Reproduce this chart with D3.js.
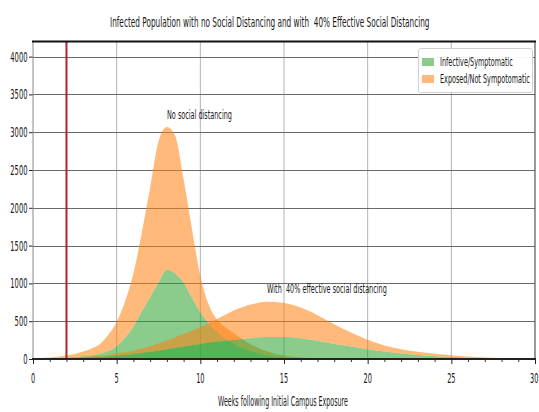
<!DOCTYPE html>
<html>
<head>
<meta charset="utf-8">
<script src="https://cdn.jsdelivr.net/npm/d3@7/dist/d3.min.js"></script>
<style>
  html, body { margin: 0; padding: 0; background: #fff; }
  text { font-family: "DejaVu Sans", sans-serif; white-space: pre; }
</style>
</head>
<body>
<div id="chart"></div>
<script>
// ---------- data ----------
const weeks = [0,1,2,3,3.5,4,4.5,5,5.5,6,6.5,7,7.5,8,8.5,9,9.5,10,10.5,11,11.5,12,12.5,13,14,15,16,17,18,19,20,21,22,23,24,25,26,27,28,29,30];
// No social distancing (stacked: infective bottom, exposed on top)
const noSdInfective = [3,8,16,35,50,70,105,170,280,430,630,820,1010,1180,1130,1010,810,620,470,360,270,200,145,105,50,22,10,4,2,1,0,0,0,0,0,0,0,0,0,0,0];
const noSdExposed   = [5,12,29,65,90,130,215,320,480,700,1040,1450,1870,1890,1820,1370,910,480,250,160,150,140,115,90,50,23,10,4,2,1,1,0,0,0,0,0,0,0,0,0,0];
// 40% effective social distancing
const sdInfective = [1,4,8,18,24,30,38,45,55,66,80,95,112,130,148,165,183,200,215,230,243,255,265,275,290,292,275,240,200,165,130,98,72,52,37,26,18,12,8,5,3];
const sdExposed   = [2,4,7,12,14,15,19,25,33,44,58,75,93,115,140,165,192,220,260,300,342,385,420,445,468,448,405,340,260,185,125,82,58,43,31,22,14,9,5,3,2];

const xTicks = [0,5,10,15,20,25,30];
const yTicks = [0,500,1000,1500,2000,2500,3000,3500,4000];
const legendLabels = ["Infective/Symptomatic", "Exposed/Not Sympotomatic"];
const titleText = "Infected Population with no Social Distancing and with  40% Effective Social Distancing";
const xLabelText = "Weeks following Initial Campus Exposure";
const annotNoSd = "No social distancing";
const annotSd = "With  40% effective social distancing";
const markerWeek = 2;

// ---------- chart ----------
const W = 539, H = 412;
const svg = d3.select("#chart").append("svg").attr("width", W).attr("height", H);
svg.append("rect").attr("width", W).attr("height", H).attr("fill", "#fff");

const x = d3.scaleLinear().domain([0, 30]).range([33, 535]);
const y = d3.scaleLinear().domain([0, 4200]).range([359, 41.5]);

const GREEN = "#2ca02c", ORANGE = "#ff7f0e", ALPHA = 0.55;
const TXT = "#1a1a1a";

// condensed text: place a text at (px, py) with anchor, squeezed horizontally to width w
function squeezed(parent, str, px, py, w, size, anchor) {
  const g = parent.append("g");
  const t = g.append("text").attr("x", 0).attr("y", 0).attr("font-size", size)
    .attr("fill", TXT).attr("text-anchor", anchor || "start").text(str);
  const nat = t.node().getComputedTextLength() || w;
  g.attr("transform", `translate(${px},${py}) scale(${w / nat},1)`);
  return g;
}

// grid
svg.append("g").selectAll("line").data(xTicks.filter(d => d > 0 && d < 30)).join("line")
  .attr("x1", d => x(d)).attr("x2", d => x(d))
  .attr("y1", y.range()[1]).attr("y2", y.range()[0])
  .attr("stroke", "#b4b4b4").attr("stroke-width", 1);
svg.append("g").selectAll("line").data(yTicks.filter(d => d > 0)).join("line")
  .attr("x1", x(0)).attr("x2", x(30))
  .attr("y1", d => Math.round(y(d)) + 0.5).attr("y2", d => Math.round(y(d)) + 0.5)
  .attr("stroke", "#6a6a6a").attr("stroke-width", 1.2);

// areas
const idx = d3.range(weeks.length);
function drawStack(inf, exp) {
  const aI = d3.area().curve(d3.curveMonotoneX)
    .x(i => x(weeks[i])).y0(y(0)).y1(i => y(inf[i]));
  const aE = d3.area().curve(d3.curveMonotoneX)
    .x(i => x(weeks[i])).y0(i => y(inf[i])).y1(i => y(inf[i] + exp[i]));
  svg.append("path").datum(idx).attr("d", aI).attr("fill", GREEN).attr("fill-opacity", ALPHA);
  svg.append("path").datum(idx).attr("d", aE).attr("fill", ORANGE).attr("fill-opacity", ALPHA);
}
drawStack(noSdInfective, noSdExposed);
drawStack(sdInfective, sdExposed);

// red marker line
svg.append("line")
  .attr("x1", x(markerWeek)).attr("x2", x(markerWeek))
  .attr("y1", y.range()[1]).attr("y2", y(0))
  .attr("stroke", "#b3222b").attr("stroke-width", 2);

// axes (ticks via d3 axes, labels squeezed)
const xAxis = svg.append("g").attr("transform", `translate(0,${y(0)})`)
  .call(d3.axisBottom(x).tickValues(xTicks).tickSize(5).tickFormat(""));
xAxis.select(".domain").remove();
xAxis.selectAll("line").attr("stroke", "#222");
xTicks.forEach(d => {
  const s = String(d);
  const w = s.length * 4.2;
  let cx = x(d);
  if (cx + w / 2 > W - 0.5) cx = W - 0.5 - w / 2;
  squeezed(svg, s, cx, 383, w, 14, "middle");
});
const xMinor = svg.append("g").attr("transform", `translate(0,${y(0)})`)
  .call(d3.axisBottom(x).tickValues(d3.range(0, 31).filter(d => d % 5 !== 0)).tickSize(3).tickFormat(""));
xMinor.select(".domain").remove();
xMinor.selectAll("line").attr("stroke", "#333");

const yAxis = svg.append("g").attr("transform", `translate(${x(0)},0)`)
  .call(d3.axisLeft(y).tickValues(yTicks).tickSize(4).tickFormat(""));
yAxis.select(".domain").remove();
yAxis.selectAll("line").attr("stroke", "#222");
yTicks.forEach(d => {
  const s = String(d);
  squeezed(svg, s, 27.5, y(d) + 5, s.length * 4.3, 14, "end");
});

// spines
svg.append("line").attr("x1", x(0)).attr("x2", x(0)).attr("y1", y.range()[1]).attr("y2", y(0))
  .attr("stroke", "#888").attr("stroke-width", 1);
svg.append("line").attr("x1", x(30)).attr("x2", x(30)).attr("y1", y.range()[1]).attr("y2", y(0))
  .attr("stroke", "#555").attr("stroke-width", 1.2);
svg.append("line").attr("x1", x(0) - 1).attr("x2", x(30) + 1).attr("y1", y.range()[1]).attr("y2", y.range()[1])
  .attr("stroke", "#111").attr("stroke-width", 2);
svg.append("line").attr("x1", x(0) - 1).attr("x2", x(30) + 1).attr("y1", y(0)).attr("y2", y(0))
  .attr("stroke", "#222").attr("stroke-width", 2.2);

// title and labels
squeezed(svg, titleText, 110, 27, 320, 14, "start");
squeezed(svg, xLabelText, 218, 406, 130, 14, "start");

// annotations
squeezed(svg, annotNoSd, 167, 119, 65, 13, "start");
squeezed(svg, annotSd, 267, 293, 120, 13, "start");

// legend
const lg = svg.append("g");
lg.append("rect").attr("x", 418.5).attr("y", 48.5).attr("width", 114).attr("height", 44)
  .attr("fill", "#fff").attr("fill-opacity", 0.95).attr("stroke", "#d0d0d0").attr("rx", 2);
const legendColors = [GREEN, ORANGE];
const legendWidths = [73, 90];
legendLabels.forEach((lab, i) => {
  lg.append("rect").attr("x", 422).attr("y", 58 + i * 17).attr("width", 12).attr("height", 8)
    .attr("fill", legendColors[i]).attr("fill-opacity", ALPHA);
  squeezed(lg, lab, 440, 66 + i * 17, legendWidths[i], 12, "start");
});
</script>
</body>
</html>
